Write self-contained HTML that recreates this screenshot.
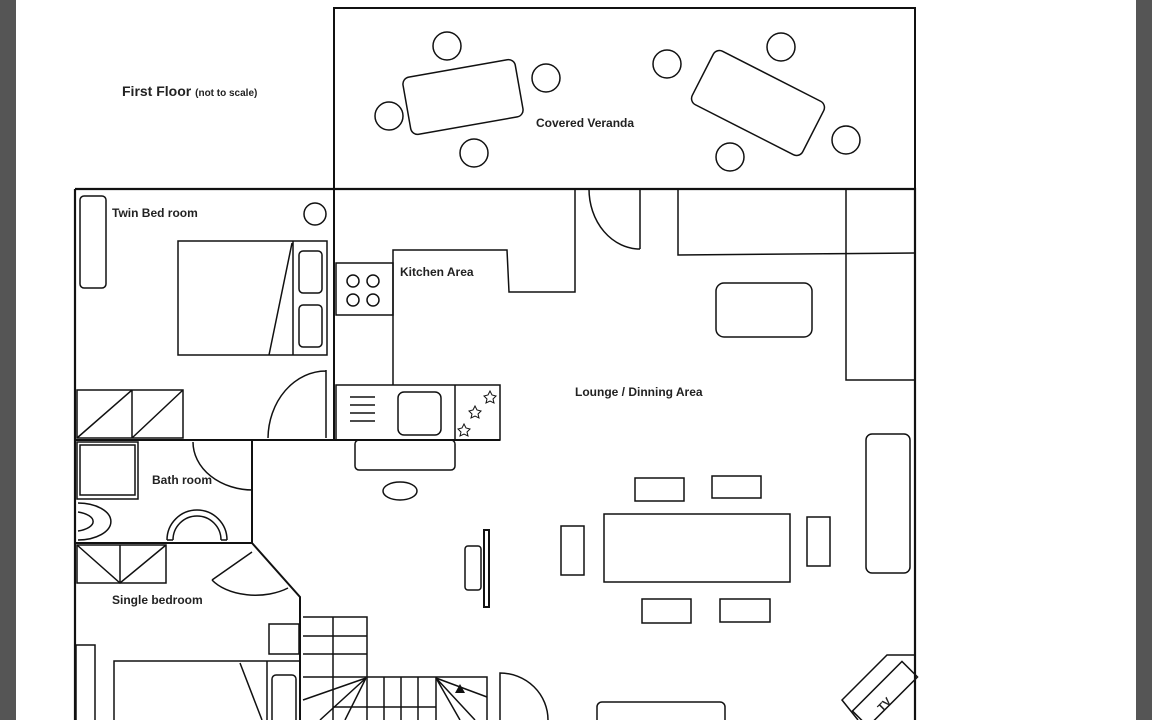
<!DOCTYPE html><html><head><style>body{margin:0;background:#fff}svg{display:block}text{font-family:"Liberation Sans",sans-serif;font-weight:bold;fill:#222}</style></head><body>
<svg width="1152" height="720" viewBox="0 0 1152 720" xmlns="http://www.w3.org/2000/svg">
<rect x="0" y="0" width="16" height="720" fill="#555"/>
<rect x="1136" y="0" width="16" height="720" fill="#555"/>
<g fill="none" stroke="#111" stroke-width="1.5">
<rect x="334" y="8" width="581" height="181" stroke-width="2"/>
<circle cx="447" cy="46" r="14"/><circle cx="546" cy="78" r="14"/><circle cx="389" cy="116" r="14"/><circle cx="474" cy="153" r="14"/>
<rect x="406" y="68" width="114" height="58" rx="7" transform="rotate(-10 463 97)"/>
<circle cx="667" cy="64" r="14"/><circle cx="781" cy="47" r="14"/><circle cx="846" cy="140" r="14"/><circle cx="730" cy="157" r="14"/>
<rect x="696" y="73" width="124" height="60" rx="7" transform="rotate(27 758 103)"/>
<path d="M75 189H915V720M75 189V720" stroke-width="2.2"/>
<path d="M334 189V440M75 440H500" stroke-width="2"/>
<rect x="80" y="196" width="26" height="92" rx="4"/>
<circle cx="315" cy="214" r="11"/>
<rect x="178" y="241" width="149" height="114"/>
<path d="M293 241V355M292 243L269 355"/>
<rect x="299" y="251" width="23" height="42" rx="4"/><rect x="299" y="305" width="23" height="42" rx="4"/>
<rect x="77" y="390" width="106" height="48"/><path d="M132 390V438M77 438L132 390M132 438L183 390"/>
<path d="M326 370V438M326 371A58 68 0 0 0 268 438"/>
<rect x="336" y="263" width="57" height="52"/>
<circle cx="353" cy="281" r="6"/><circle cx="373" cy="281" r="6"/><circle cx="353" cy="300" r="6"/><circle cx="373" cy="300" r="6"/>
<path d="M393 385V250H507L509 292H575V189"/>
<rect x="336" y="385" width="164" height="55"/><path d="M455 385V440"/>
<rect x="398" y="392" width="43" height="43" rx="6"/>
<path d="M350 397H375M350 405H375M350 413H375M350 421H375"/>
<rect x="355" y="440" width="100" height="30" rx="4"/>
<ellipse cx="400" cy="491" rx="17" ry="9"/>
<path d="M640 189V249M589 189A51 60 0 0 0 640 249"/>
<path d="M678 189V255L915 253M846 189V380H915"/>
<rect x="716" y="283" width="96" height="54" rx="8"/>
<rect x="866" y="434" width="44" height="139" rx="6"/>
<rect x="604" y="514" width="186" height="68"/>
<rect x="635" y="478" width="49" height="23"/><rect x="712" y="476" width="49" height="22"/>
<rect x="642" y="599" width="49" height="24"/><rect x="720" y="599" width="50" height="23"/>
<rect x="561" y="526" width="23" height="49"/><rect x="807" y="517" width="23" height="49"/>
<rect x="484" y="530" width="5" height="77" stroke-width="2"/>
<rect x="465" y="546" width="16" height="44" rx="3"/>
<path d="M915 655H887L842 700L858 720"/>
<rect x="850" y="683" width="70" height="22" transform="rotate(-45 885 694)"/>
<rect x="597" y="702" width="128" height="30" rx="5"/>
<path d="M500 720V673A48 47 0 0 1 548 720"/>
<path d="M252 440V543H75M252 543L300 597V720" stroke-width="2"/>
<rect x="77" y="442" width="61" height="57"/><rect x="80" y="445" width="55" height="50"/>
<path d="M78 503A32 18 0 0 1 78 540M78 512A22 10 0 0 1 78 531"/>
<path d="M167 540A30 30 0 0 1 227 540M173 540A24 24 0 0 1 221 540M167 540H173M221 540H227"/>
<path d="M193 442A60 48 0 0 0 253 490"/>
<rect x="77" y="545" width="89" height="38"/><path d="M120 545V583M77 545L120 583L166 545"/>
<path d="M212 580L252 552M212 580A50 30 0 0 0 288 588"/>
<rect x="269" y="624" width="30" height="30"/>
<rect x="76" y="645" width="19" height="80"/>
<path d="M114 725V661H300M267 661V725M240 663L262 720"/>
<rect x="272" y="675" width="24" height="60" rx="4"/>
<path d="M303 617H367V677M333 617V720M303 636H367M303 654H367M303 677H487V720M333 707H436M384 677V720M401 677V720M418 677V720M436 677V720M367 677V720"/>
<path d="M366 678L303 700M366 678L320 720M366 678L345 720M436 678L487 697M436 678L460 720M436 678L475 720"/>
</g>
<path d="M460 684L465 693H455Z" fill="#111"/>
<g fill="none" stroke="#111" stroke-width="1">
<path d="M490 391l2 4 4 1-3 3 1 4-4-2-4 2 1-4-3-3 4-1z"/>
<path d="M475 406l2 4 4 1-3 3 1 4-4-2-4 2 1-4-3-3 4-1z"/>
<path d="M464 424l2 4 4 1-3 3 1 4-4-2-4 2 1-4-3-3 4-1z"/>
</g>
<text x="122" y="96" font-size="14">First Floor <tspan font-size="10">(not to scale)</tspan></text>
<text x="536" y="127" font-size="12">Covered Veranda</text>
<text x="112" y="217" font-size="12">Twin Bed room</text>
<text x="400" y="276" font-size="12">Kitchen Area</text>
<text x="575" y="396" font-size="12">Lounge / Dinning Area</text>
<text x="152" y="484" font-size="12">Bath room</text>
<text x="112" y="604" font-size="12">Single bedroom</text>
<text x="0" y="0" font-size="11" transform="translate(882 712) rotate(-45)">TV</text>
</svg></body></html>
